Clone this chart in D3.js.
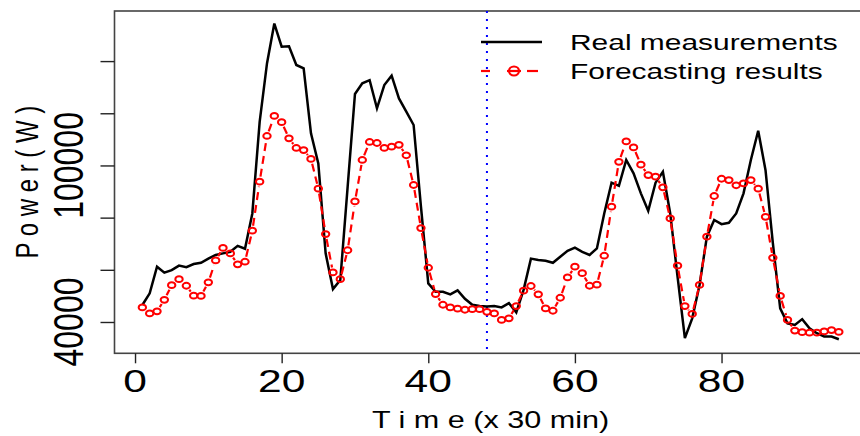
<!DOCTYPE html>
<html>
<head>
<meta charset="utf-8">
<script src="https://cdn.jsdelivr.net/npm/d3@7"></script>
<style>
  html, body { margin: 0; padding: 0; background: #fff; }
  svg { display: block; font-family: "Liberation Sans", Arial, Helvetica, sans-serif; }
</style>
</head>
<body>
<svg id="chart" width="860" height="436"></svg>
<script>
// ---- data (time index in 30-min steps, power in W) ----
const timeSteps = d3.range(1, 97);
const realMeasurements = [
  46500, 51000, 61200, 58900, 59900, 61600, 61000, 62200, 62700, 64300,
  65700, 66300, 66900, 69200, 68100, 81600, 116700, 139100, 154400, 145500,
  145700, 138500, 137200, 112300, 100800, 66300, 52600, 56100, 91800, 127400,
  131500, 132700, 121900, 130800, 134400, 125700, 120600, 115500, 84200, 54800,
  51600, 51600, 50600, 52100, 48900, 46600, 46100, 45900, 46100, 45600,
  47200, 43700, 52300, 64300, 63800, 63500, 62700, 65000, 67300, 68500,
  66900, 65700, 68200, 81600, 93400, 92200, 102100, 97000, 89300, 82600,
  93400, 97600, 81600, 57400, 33800, 41400, 54200, 72700, 79100, 77500,
  78000, 81600, 89300, 102100, 113300, 98200, 70200, 45200, 39500, 38900,
  41100, 37600, 35700, 34400, 34400, 33400
];
const forecastResults = [
  45600, 43300, 44100, 48500, 54100, 56400, 53900, 50100, 50000, 55200,
  63600, 68400, 66300, 62100, 63100, 75000, 93800, 111300, 119000, 116600,
  110400, 106700, 105900, 102500, 91100, 73700, 59000, 56400, 67500, 86200,
  102100, 109000, 108600, 106700, 107200, 107900, 103900, 92500, 76000, 60800,
  50700, 46600, 45600, 45100, 44700, 44900, 44900, 43900, 43300, 40800,
  41400, 46100, 52000, 53800, 50600, 45200, 44300, 49300, 57100, 61200,
  58700, 53900, 54300, 65400, 84200, 101400, 109200, 106900, 100300, 96300,
  95700, 91600, 79700, 61600, 46100, 43100, 54200, 72700, 88300, 94900,
  94400, 92400, 93100, 94400, 91100, 80300, 64600, 50000, 40800, 36700,
  36100, 35900, 35900, 36400, 36900, 36200
];
const splitTime = 48;
const xTickValues = [0, 20, 40, 60, 80];
const yTickValues = [40000, 60000, 80000, 100000, 120000, 140000];
const yTickLabels = ["40000", "", "", "100000", "", ""];
const legendLabels = ["Real measurements", "Forecasting results"];
const xTitle = "T i m e (x 30 min)";
const yTitle = "P o w e r ( W )";

// ---- layout ----
const svg = d3.select("#chart");
const SX = 1.33; // horizontal glyph stretch seen in the reference
const plot = { left: 114.5, right: 866.7, top: 11, bottom: 353.3 };

const x = d3.scaleLinear().domain([-2.8, 99.8]).range([plot.left, plot.right]);
const y = d3.scaleLinear().domain([28000, 159200]).range([plot.bottom, plot.top]);

// box
svg.append("rect")
  .attr("x", plot.left).attr("y", plot.top)
  .attr("width", plot.right - plot.left).attr("height", plot.bottom - plot.top)
  .attr("fill", "none").attr("stroke", "#444").attr("stroke-width", 1.6);

// x axis ticks
const xAxis = d3.axisBottom(x).tickValues(xTickValues).tickSize(10).tickSizeOuter(0).tickFormat("");
const gx = svg.append("g").attr("transform", `translate(0,${plot.bottom})`).call(xAxis);
gx.select(".domain").remove();
gx.selectAll(".tick line").attr("stroke", "#222").attr("stroke-width", 1.4);
svg.append("g").selectAll("text").data(xTickValues).join("text")
  .attr("transform", d => `translate(${x(d)},392) scale(${SX},1)`)
  .attr("text-anchor", "middle")
  .attr("font-size", 32)
  .attr("fill", "#000")
  .text(d => d);

// y axis ticks
const yAxis = d3.axisLeft(y).tickValues(yTickValues).tickSize(14).tickSizeOuter(0).tickFormat("");
const gy = svg.append("g").attr("transform", `translate(${plot.left},0)`).call(yAxis);
gy.select(".domain").remove();
gy.selectAll(".tick line").attr("stroke", "#222").attr("stroke-width", 1.4);
svg.append("g").selectAll("text").data(yTickValues.map((v, i) => ({ v, label: yTickLabels[i] })).filter(d => d.label))
  .join("text")
  .attr("transform", d => `translate(83,${y(d.v)}) scale(${SX},1) rotate(-90)`)
  .attr("text-anchor", "middle")
  .attr("font-size", 32)
  .attr("fill", "#000")
  .text(d => d.label);

// axis titles
svg.append("text")
  .attr("transform", `translate(${(plot.left + plot.right) / 2},428) scale(${SX},1)`)
  .attr("text-anchor", "middle").attr("font-size", 23).text(xTitle);
svg.append("text")
  .attr("transform", `translate(38,${(plot.top + plot.bottom) / 2}) scale(${SX},1) rotate(-90)`)
  .attr("text-anchor", "middle").attr("font-size", 24).text(yTitle);

// vertical split line
svg.append("line")
  .attr("x1", x(splitTime)).attr("x2", x(splitTime))
  .attr("y1", plot.top).attr("y2", plot.bottom)
  .attr("stroke", "#0000ff").attr("stroke-width", 2)
  .attr("stroke-dasharray", "2,6");

// real measurements line
const line = d3.line().x((d, i) => x(timeSteps[i])).y(d => y(d));
svg.append("path")
  .datum(realMeasurements)
  .attr("d", line)
  .attr("fill", "none").attr("stroke", "#000").attr("stroke-width", 2.5)
  .attr("stroke-linejoin", "miter");

// forecast: R type="b" (segments with gaps around points)
const pts = forecastResults.map((v, i) => [x(timeSteps[i]), y(v)]);
const gap = 5;
const segs = [];
for (let i = 0; i < pts.length - 1; i++) {
  const [x0, y0] = pts[i], [x1, y1] = pts[i + 1];
  const dx = x1 - x0, dy = y1 - y0, len = Math.hypot(dx, dy);
  if (len > 2 * gap) {
    const ux = dx / len, uy = dy / len;
    segs.push([x0 + ux * gap, y0 + uy * gap, x1 - ux * gap, y1 - uy * gap]);
  }
}
svg.append("g").selectAll("line").data(segs).join("line")
  .attr("x1", d => d[0]).attr("y1", d => d[1]).attr("x2", d => d[2]).attr("y2", d => d[3])
  .attr("stroke", "#ff0000").attr("stroke-width", 2.2).attr("stroke-dasharray", "8,5");
svg.append("g").selectAll("ellipse").data(pts).join("ellipse")
  .attr("cx", d => d[0]).attr("cy", d => d[1])
  .attr("rx", 3.7).attr("ry", 2.9)
  .attr("fill", "none").attr("stroke", "#ff0000").attr("stroke-width", 2);

// legend
const lg = svg.append("g");
lg.append("line").attr("x1", 481).attr("x2", 542).attr("y1", 42).attr("y2", 42)
  .attr("stroke", "#000").attr("stroke-width", 2.5);
[[481, 490], [507, 521], [527, 538]].forEach(([a, b]) => {
  lg.append("line").attr("x1", a).attr("x2", b).attr("y1", 71).attr("y2", 71)
    .attr("stroke", "#ff0000").attr("stroke-width", 2.2);
});
lg.append("ellipse").attr("cx", 514).attr("cy", 71).attr("rx", 5).attr("ry", 4.5)
  .attr("fill", "none").attr("stroke", "#ff0000").attr("stroke-width", 2.2);
lg.selectAll("text.leg").data(legendLabels).join("text")
  .attr("class", "leg")
  .attr("transform", (d, i) => `translate(570,${50 + i * 29}) scale(${SX},1)`)
  .attr("font-size", 22.5).attr("fill", "#000")
  .text(d => d);
</script>
</body>
</html>
